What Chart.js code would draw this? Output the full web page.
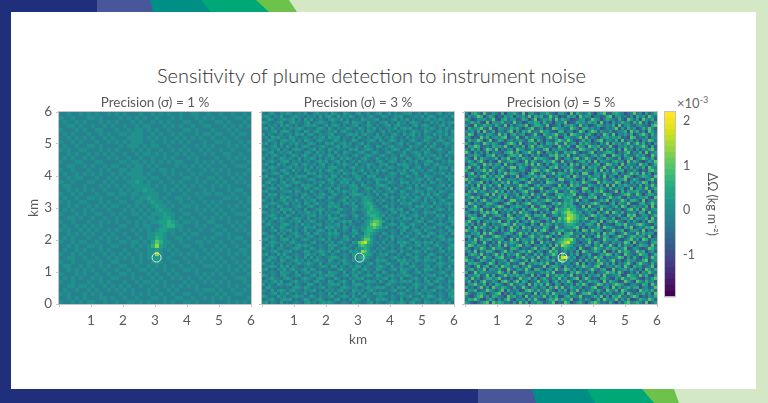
<!DOCTYPE html>
<html>
<head>
<meta charset="utf-8">
<script src="https://cdn.jsdelivr.net/npm/chart.js@4"></script>
<style>
  html, body { margin: 0; padding: 0; }
  body { position: relative; width: 768px; height: 403px; overflow: hidden; background: #d5e8c6; font-family: Lato, sans-serif; }
  .band { position: absolute; }
  #sheet { position: absolute; left: 11px; top: 12px; width: 745px; height: 377px; background: #fff; }
  #mainTitle { position: absolute; left: 0; width: 743px; top: 63px; text-align: center; font-size: 20px; font-weight: 300; color: #2e2e2e; white-space: nowrap; }
  #scaleNote { position: absolute; left: 677px; top: 94px; font-size: 13px; color: #666; }
  #scaleNote sup { font-size: 9px; }
  canvas { position: absolute; filter: blur(0.5px); }
</style>
</head>
<body>
<div class="band" style="left:0;top:0;width:11px;height:403px;background:#1f2f7c"></div>
<div class="band" style="left:0;top:0;width:297px;height:12px;background:#6cc24a;clip-path:polygon(0 0,289px 0,297px 12px,0 12px)"></div>
<div class="band" style="left:0;top:0;width:269px;height:12px;background:#00a878;clip-path:polygon(0 0,256px 0,269px 12px,0 12px)"></div>
<div class="band" style="left:0;top:0;width:211px;height:12px;background:#008f86;clip-path:polygon(0 0,201px 0,211px 12px,0 12px)"></div>
<div class="band" style="left:0;top:0;width:153px;height:12px;background:#47579a;clip-path:polygon(0 0,150px 0,153px 12px,0 12px)"></div>
<div class="band" style="left:0;top:0;width:97px;height:12px;background:#1f2f7c"></div>
<div class="band" style="left:0;top:389px;width:679px;height:14px;background:#6cc24a;clip-path:polygon(0 0,674px 0,679px 14px,0 14px)"></div>
<div class="band" style="left:0;top:389px;width:654px;height:14px;background:#00a878;clip-path:polygon(0 0,642px 0,654px 14px,0 14px)"></div>
<div class="band" style="left:0;top:389px;width:595px;height:14px;background:#008f86;clip-path:polygon(0 0,587px 0,595px 14px,0 14px)"></div>
<div class="band" style="left:0;top:389px;width:536px;height:14px;background:#47579a;clip-path:polygon(0 0,532px 0,536px 14px,0 14px)"></div>
<div class="band" style="left:0;top:389px;width:478px;height:14px;background:#1f2f7c"></div>
<div id="sheet"></div>
<div id="mainTitle">Sensitivity of plume detection to instrument noise</div>
<div id="scaleNote">×10<sup>-3</sup></div>

<canvas id="panel1" width="244" height="258" style="left:19px;top:90px"></canvas>
<canvas id="panel2" width="244" height="258" style="left:222px;top:90px"></canvas>
<canvas id="panel3" width="244" height="258" style="left:425px;top:90px"></canvas>
<canvas id="colorbar" width="65" height="214" style="left:660px;top:90px"></canvas>

<script>
// valores de cada celda, estimados a ojo: cada caracter es un indice de deltaLevels
// filas de arriba (6 km) hacia abajo (0 km)
const deltaLevels = [-1.8, -1.4, -1.0, -0.7, -0.4, -0.15, 0.1, 0.35, 0.65, 1.0, 1.4, 1.8, 2.1];

const precision1Rows = [
  "55655656 56556565 65556556 56565565 56655655 65565565",
  "65565556 65655556 56565655 65556565 55656565 56556656",
  "56556565 55656565 55656556 56565556 65565556 65655565",
  "55665655 65565655 65565665 55656565 56556655 56565656",
  "65556565 56655565 56566565 65565556 65655565 55656555",
  "56565556 55656556 65666556 56556565 55656656 65565665",
  "55656565 65565655 56666565 65655656 56565565 56556555",
  "65565655 56556565 65666556 55656565 65556556 65655656",
  "56556556 65655556 56665656 65565556 55656565 55656565",
  "65655665 55656565 55656565 56556565 65565655 65565556",
  "55656556 56565655 65565665 65655656 56556565 56655655",
  "56565565 65556565 56556556 55656555 65655556 55656565",
  "65556655 56655556 65665656 56565665 55656565 65565556",
  "55665565 65565665 56566565 65555656 56565655 56556665",
  "65565556 55656556 65666556 56656555 65556565 65655556",
  "56556565 65655656 56666565 55656565 56565556 55656565",
  "55656655 56556565 65666656 65565556 65655665 65565655",
  "65565556 65565655 56676565 56556565 55656556 56556565",
  "56655565 55656565 65666665 65655656 56565565 65655556",
  "55656565 65565556 56566766 55656565 65556565 55656655",
  "65565655 56556656 65665666 65565556 55656656 65565565",
  "56556556 65655565 55656676 65655665 65565555 56656556",
  "65655665 55656556 65566567 66565565 56556565 65555656",
  "55656556 56565665 56565656 76656556 65655656 55656565",
  "56565565 65556555 65656565 67665565 55656565 65565556",
  "65556565 56655656 55665656 66766556 65565556 56556665",
  "55665655 65565565 65556566 56776565 56556565 65655556",
  "65565556 55656565 56565656 67787656 65655665 55656565",
  "56556565 65655556 65565665 56788665 55656556 65565655",
  "65655656 56556565 55656565 67766565 65565565 56556565",
  "55656565 65565655 65565566 77656556 56655556 65655556",
  "56565556 55656565 56556566 87655665 65556565 55656655",
  "65565665 56556556 65665657 98665565 55665655 65565565",
  "55656556 65655665 55656568 a7656556 65565556 56556556",
  "56556565 55656555 65565566 76565655 56556565 65655665",
  "65565655 65565656 56556566 a6556565 65655656 55656565",
  "55665565 56556565 65656566 76565556 55656565 65565556",
  "65565556 65655665 55656556 66556655 65565556 56556565",
  "56655656 55656556 65565565 65655565 56556665 65655656",
  "55656565 65565565 56556656 55656556 65655556 55656565",
  "65556565 56556556 65655565 65565655 55656565 65565556",
  "56565655 65655665 55656556 56556565 65565655 56556665",
  "65565556 55656555 65565665 65655556 56556565 65655565",
  "55665665 65565656 56556556 55656565 65655556 55656556",
  "56556556 56556565 65655565 65565655 55656665 65565565",
  "65655565 65655556 55656565 56556556 65565556 56556655",
  "55656565 55665655 65565556 65655665 56556565 65655556",
  "65565656 65565565 56656565 55656556 65655565 55656565"
];

const precision2Rows = [
  "54675465 76456574 46755647 65476546 74564567 45746556 67456475 54674565",
  "67546574 45675546 56474675 47565764 56467545 76456674 45565746 76455647",
  "45764567 56746475 74565467 65746455 47655674 54567465 74645567 46576454",
  "76545674 46755467 45676546 54567476 65475546 67454756 46765454 75646567",
  "54656475 75464567 67545746 76464567 45576464 56746755 54674676 45567464",
  "67475546 46567645 54676475 46557654 76465746 45657467 67454565 76464755",
  "45567467 75465476 46754565 74675546 56476545 74654656 45765476 54675647",
  "74654564 56476746 75465567 45546767 46755474 65467547 56746465 47565746",
  "56476755 47654565 46567476 67455464 75464676 46575454 74655467 65474566",
  "45765467 65746476 54675545 76464576 45567647 54676465 46754576 54676457",
  "67456475 46575546 76454767 45675645 67464554 76545674 65467546 47546765",
  "54567464 75464676 45567545 67476546 54765476 45675564 47565474 76454656",
  "76465746 54676545 67465476 46554767 45676454 56467645 76454657 45675546",
  "45674565 67455467 54756464 75476545 67545764 46754557 45676476 54565476",
  "56467546 45764675 46575576 46565467 54676546 75465476 54567465 67464755",
  "74564576 56547465 76464657 54757645 46754575 46567454 76456746 45765464",
  "45675467 74656456 45675745 67464564 75645467 54676456 46574567 74546576",
  "67454756 45674675 56467456 46576547 45576546 67454767 65465476 46755465",
  "54676545 67465564 74656467 75464675 56474656 45765546 74567454 56476746",
  "76465467 54756476 45574676 46755464 67456475 76454657 46755646 75465547",
  "45567646 75464547 67465456 56476576 45746564 54676476 54674565 46567464",
  "67454575 46567674 45675647 74645457 65476745 46565454 76465476 65454766",
  "54676464 65745456 76454576 46576646 74554676 67464565 45567647 54765475",
  "46755467 45676545 46567467 54767464 56465475 45765476 74656464 76465546",
  "75464656 76454767 65474556 46565676 47654567 76454564 56474765 45567474",
  "45676475 54565476 46755674 67454667 54676464 56747545 67465457 74654656",
  "67454556 67476454 75465467 46576576 45564756 45675476 45576646 56476545",
  "54767465 45564675 46567546 75464677 76465474 67454565 74654757 46755467",
  "46565476 76454756 54676476 54567465 56766546 46575467 56476465 74564576",
  "75464567 46575465 67454565 45674656 46776465 75464756 45765474 56467545",
  "45676546 74656476 46755467 56467574 56787546 45565476 67454665 47565676",
  "67454764 54567546 75464576 76454567 45778654 67464545 56476756 74654564",
  "54565476 67465474 45676465 46755476 56678765 45675674 46755465 45676475",
  "76465647 45746567 56474656 67454564 45687776 56467465 74564576 67454556",
  "45676454 76454656 67465574 54765467 54678876 74654576 45675464 54767465",
  "56467576 54676547 45565476 76454456 46567887 46565647 67464755 46565476",
  "74654565 46567465 76454657 45676745 54678998 75464565 54567646 75464567",
  "46755467 75464756 45674565 67464654 45679a98 45676476 46755474 45676546",
  "65474576 45565476 67454767 56476465 56688987 67454657 74654656 67454764",
  "54567465 67464574 54676464 74565476 46788765 54565467 45676475 54565476",
  "76454656 45675467 46755576 76454567 54787654 76465474 56467546 76465647",
  "45675474 56476546 75464565 65476474 56886546 45675646 74564767 45676454",
  "67465467 74654676 45567474 54567545 47997545 56474565 46755454 56467576",
  "54676556 46755454 67454657 46755476 9ab87564 74654767 65476576 74654565",
  "46575474 65467676 54565476 75464654 89876546 46565476 45567465 46755467",
  "75464665 45676454 76465467 45676546 67875465 75464564 67454657 65474576",
  "45567546 67454576 45676574 67454767 5a975646 45676475 54676474 54567465",
  "67454757 54565467 56467546 54565476 67876456 67454654 76465546 76454656",
  "54676465 76465474 74654567 76465465 78765465 54567546 45675467 45675474",
  "46755476 45675646 46755476 45675574 67654576 76454767 56476576 67465467",
  "75464564 56467567 65474565 56476546 56467465 46755476 74654565 54676556",
  "45676475 74654456 54567647 74654657 74654567 65474564 46755467 46575474",
  "67454657 46755674 76454554 46755476 46755476 54567476 65474576 75464665",
  "54565476 65474567 45675476 65474565 75464654 76454567 54567465 45567546",
  "76465467 54567454 67465767 54567467 45676476 45675656 76454656 67454757",
  "45675546 76454676 54676454 76454656 67454565 67465474 45675474 54676465",
  "56467574 45675565 46755476 45675474 54676647 54676567 67465467 46755476",
  "74654765 67465447 75464567 67465467 76465454 46755454 54676556 75464564",
  "46755454 54676576 45567465 54676556 45675676 75464767 46575474 45676475",
  "65474676 46755465 67454656 46755476 56467545 45567454 75464665 67454657",
  "54567465 75464574 54565474 75464564 74654767 67454676 45567546 54565476",
  "76454756 45676645 76465567 45676475 46755456 54565465 67454757 76465467",
  "45675467 67454576 45675454 67454657 65474576 76465474 54676465 45675546",
  "67465474 54565467 56467676 54565476 54567465 45675676 46755476 56467574"
];

const precision3Rows = [
  "62785394 47538266 85392674 36685427 75293864 58426793 37865245 94627358",
  "37469825 86243757 26574938 68349572 43867295 76255348 92674536 28573964",
  "85236674 59327846 73486259 25768394 86523477 34976258 65384297 47296583",
  "46857329 27668453 94523768 73845266 59234867 48672935 27458663 85936247",
  "73294586 64853927 35769248 86492357 27685394 62358746 58293674 36754289",
  "28567943 93276458 68425793 47253986 64397528 85746236 46927385 72485963",
  "65738294 48265379 27386945 59674328 83562497 26983754 73456829 58362974",
  "49825637 75394826 84672359 32865794 47298653 68425397 39265748 24796385",
  "76243958 36758924 59238467 64379582 28754693 93642578 57683429 83547266",
  "38569724 92486357 46753892 85264379 75963248 47258936 64829357 36275984",
  "84265397 57632489 73924658 26387594 39467285 86352749 28574693 69483527",
  "27698345 38675942 65482793 78546329 54832976 29768354 93265748 45796283",
  "63847259 84925367 29763485 43892657 76254398 65483927 47382956 27365894",
  "95274638 26543789 48267953 95276483 38679524 37925468 86254793 64829357",
  "36586427 79364258 86935274 62438795 84925367 53684792 29763854 48573296",
  "74293865 45827693 37486529 78653294 26748935 96427538 64382579 25796483",
  "58637942 63295478 75249386 34867952 93562478 48293765 37856294 86324759",
  "25784396 84762935 26758493 95273684 47295836 73568249 84629375 53967248",
  "69348275 27548369 93864257 46528793 65784329 28674593 56293748 37482965",
  "83265794 95386427 54673289 84796325 28396574 65482937 39678254 74253896",
  "47926358 36274958 86352794 27365948 75483629 93276485 47825369 68394725",
  "26574893 74869325 39246758 58924367 36829745 48567392 75263984 24687539",
  "95832467 58293476 64785293 73485629 94576238 26895374 38467925 86325794",
  "38457926 26748593 87326954 36298754 62385749 75329486 64982537 47598263",
  "74629385 83592764 45978326 84765329 47296853 38654729 29375864 63827495",
  "53867294 47365829 26843795 59324876 75846239 94275863 83657249 26749358",
  "28594763 65948273 73589462 27486593 36497528 57386942 45928376 78453926",
  "86325479 29376854 58267394 64953278 85679243 26854397 72346895 39625874",
  "47968253 74582936 36794825 83275649 67873495 48792536 95683274 54768329",
  "65283794 37865249 94526378 46798352 47685926 73245869 27459638 86392475",
  "29746538 86423795 27368945 75423869 58783264 65897342 58276493 23784596",
  "83594267 54798326 68745293 38956274 68687439 29345876 46839725 75648293",
  "36785924 29364758 45283679 64582397 78978546 84762935 73562489 48295367",
  "74253869 68925473 83967425 27364985 89a98673 57428369 29748365 63872945",
  "58672394 35784296 26459738 85923674 78aa9856 36985742 64583297 92476358",
  "25986743 84236579 74682953 46785239 79ba9867 93264785 48236759 37658294",
  "69438257 57692384 38257496 73264958 68a98746 45873926 86954273 74263985",
  "84726395 26458973 95763284 29586374 57887563 78639254 32786945 58974326",
  "37295864 73846259 47296835 64873295 46768935 26458397 75342869 24658793",
  "96584273 48627359 83564729 38952467 85463729 83976524 49568237 76392548",
  "43768295 95234786 26958374 75326849 27894563 64738295 87236954 39485762",
  "78256943 37985624 64823795 48697253 68854729 35269487 24697358 85763924",
  "26493857 84567239 39476582 86352947 899a7364 78524396 65832479 47298365",
  "65782394 26394758 75268493 29475368 9ab87425 49386275 37564982 93654278",
  "39847562 73582946 48937625 64738295 a9874563 86275934 94283756 25876394",
  "84265973 49675328 86254379 37862954 68756294 23697548 58746923 76324985",
  "57392648 85236947 34785962 75249683 57463829 74586392 26395874 49682573",
  "26874935 36948275 69527438 48356972 96374825 58324769 83742965 35976248",
  "73458296 62789354 28694573 93682547 bc857246 37496825 45698273 84257396",
  "95623874 48356729 75348296 26475839 96574382 84729563 79352486 63489257",
  "38786425 97264583 43892657 68593274 74635928 26358947 38264795 27965384",
  "64259378 25839764 87265943 34926875 28463759 75489236 64873952 86734592",
  "47836592 76483295 36749528 85267394 59847263 46953782 29356748 53629748",
  "82394765 54697382 95238674 47685923 36285974 83724569 78495236 38275964",
  "26578349 38246957 68574392 73294586 84692537 27568394 45682397 64958327",
  "73946258 85793426 24956837 26853749 47358926 96342785 32749658 85326479",
  "58263794 47528963 79386245 94672583 75962384 48675293 86523974 29748563",
  "36795482 63874259 45762938 58394276 26473859 72359846 47986325 64387295",
  "84526937 29658743 83495267 36728594 93586472 54892367 29374685 78256349",
  "27683459 75369284 56238974 84596327 48275936 36748529 65829743 42967583",
  "95347862 46892537 37864529 27483965 65397248 89526374 73458296 36584729",
  "63258947 38754296 84629375 65937482 27846593 43685927 28694537 97243658",
  "48796325 85263794 26573849 43268795 86592374 75248396 56937482 24865973",
  "75324689 29687453 73948265 87356924 39724685 26897453 84263795 68539247"
];

const sourceX = [3.05];
const sourceY = [1.45];

const axisTicks = [0, 1, 2, 3, 4, 5, 6];
const colorbarTicks = [-1, 0, 1, 2];
const colorMin = -1.93;
const colorMax = 2.2;

const panelTitles = ["Precision (σ) = 1 %", "Precision (σ) = 3 %", "Precision (σ) = 5 %"];

const viridis32 = [
  "#440154", "#470e61", "#481a6c", "#482576", "#46307e", "#443b84", "#404588", "#3c4f8a",
  "#38598c", "#34618d", "#306a8e", "#2c738e", "#297b8e", "#26828e", "#238a8d", "#21918c",
  "#1f988b", "#1fa088", "#22a884", "#2ab07f", "#35b779", "#43bf71", "#54c568", "#65cb5e",
  "#7ad151", "#90d743", "#a5db36", "#bddf26", "#d2e21b", "#e5e419", "#f1e51d", "#fde725"
];

const textColor = "#5a5a5a";
const frameColor = "#c4c4c4";
const bandStep = (colorMax - colorMin) / viridis32.length;

function colorFor(v) {
  const i = Math.floor((v - colorMin) / bandStep);
  return viridis32[Math.max(0, Math.min(viridis32.length - 1, i))];
}

function rowsToCells(rows) {
  const cellKm = 6 / rows.length;
  const cells = [];
  rows.forEach((row, r) => {
    row.replace(/ /g, "").split("").forEach((ch, c) => {
      cells.push({
        x: (c + 0.5) * cellKm,
        y: 6 - (r + 0.5) * cellKm,
        v: deltaLevels[parseInt(ch, 16)]
      });
    });
  });
  return cells;
}

// marco fino alrededor del area de datos
const framePlugin = {
  id: "frame",
  afterDraw(chart) {
    const a = chart.chartArea;
    const ctx = chart.ctx;
    ctx.save();
    ctx.strokeStyle = frameColor;
    ctx.lineWidth = 1;
    ctx.strokeRect(a.left - 0.5, a.top - 0.5, a.width + 1, a.height + 1);
    ctx.restore();
  }
};

function makePanel(id, rows, title, showYLabels, showXTitle) {
  const cells = rowsToCells(rows);
  return new Chart(document.getElementById(id), {
    type: "scatter",
    data: {
      datasets: [
        {
          data: sourceX.map((x, i) => ({ x, y: sourceY[i] })),
          pointRadius: 4.5,
          borderColor: "#dfe9e4",
          borderWidth: 1,
          backgroundColor: "transparent",
          pointStyle: "circle"
        },
        {
          data: cells,
          pointStyle: "rect",
          // lado del cuadrado = radio * sqrt(2), un poco mayor que la celda
          pointRadius: (192 / rows.length + 0.1) / Math.SQRT2,
          borderWidth: 0,
          backgroundColor: cells.map(c => colorFor(c.v))
        }
      ]
    },
    options: {
      responsive: false,
      animation: false,
      layout: { padding: { right: 12 } },
      plugins: {
        legend: { display: false },
        tooltip: { enabled: false },
        title: {
          display: true,
          text: title,
          fullSize: false,
          color: textColor,
          font: { family: "Lato", size: 13.5, weight: "normal", lineHeight: "16px" },
          padding: { top: 5, bottom: 1 }
        }
      },
      scales: {
        x: {
          type: "linear",
          min: 0,
          max: 6,
          afterBuildTicks: s => { s.ticks = axisTicks.map(value => ({ value })); },
          afterFit: s => { s.height = 44; },
          grid: { drawOnChartArea: false, tickLength: 3, color: frameColor },
          border: { color: frameColor },
          ticks: {
            color: textColor,
            maxRotation: 0,
            padding: 6,
            font: { family: "Lato", size: 13.5 },
            callback: v => (v === 0 ? "" : v)
          },
          title: {
            display: showXTitle,
            text: "km",
            color: textColor,
            font: { family: "Lato", size: 13.5, lineHeight: "15px" },
            padding: { top: 0, bottom: 1 }
          }
        },
        y: {
          min: 0,
          max: 6,
          afterBuildTicks: s => { s.ticks = axisTicks.map(value => ({ value })); },
          afterFit: s => { s.width = 40; },
          grid: { drawOnChartArea: false, tickLength: 3, color: frameColor },
          border: { color: frameColor },
          ticks: {
            color: textColor,
            padding: 4,
            font: { family: "Lato", size: 13.5 },
            callback: v => (showYLabels ? v : "")
          },
          title: {
            display: showYLabels,
            text: "km",
            color: textColor,
            font: { family: "Lato", size: 13.5, lineHeight: "15px" },
            padding: { top: 7, bottom: 0 }
          }
        }
      }
    },
    plugins: [framePlugin]
  });
}

makePanel("panel1", precision1Rows, panelTitles[0], true, false);
makePanel("panel2", precision2Rows, panelTitles[1], false, true);
makePanel("panel3", precision3Rows, panelTitles[2], false, false);

new Chart(document.getElementById("colorbar"), {
  type: "bar",
  data: {
    labels: ["delta"],
    datasets: viridis32.map((color, i) => ({
      data: [[colorMin + i * bandStep, colorMin + (i + 1) * bandStep]],
      backgroundColor: color,
      borderWidth: 0,
      barPercentage: 1,
      categoryPercentage: 1
    }))
  },
  options: {
    responsive: false,
    animation: false,
    layout: { padding: { left: 5, top: 22, bottom: 1 } },
    plugins: { legend: { display: false }, tooltip: { enabled: false } },
    scales: {
      x: { stacked: true, display: false },
      y: {
        position: "right",
        min: colorMin,
        max: colorMax,
        afterBuildTicks: s => { s.ticks = colorbarTicks.map(value => ({ value })); },
        afterFit: s => { s.width = 50; },
        grid: { display: false },
        border: { display: false },
        ticks: { color: textColor, padding: 0, font: { family: "Lato", size: 12.5 } },
        title: {
          display: true,
          text: "ΔΩ (kg m⁻²)",
          color: textColor,
          font: { family: "Lato", size: 12.5, lineHeight: "15px" },
          padding: { top: 5, bottom: 0 }
        }
      }
    }
  },
  plugins: [framePlugin]
});
</script>
</body>
</html>
